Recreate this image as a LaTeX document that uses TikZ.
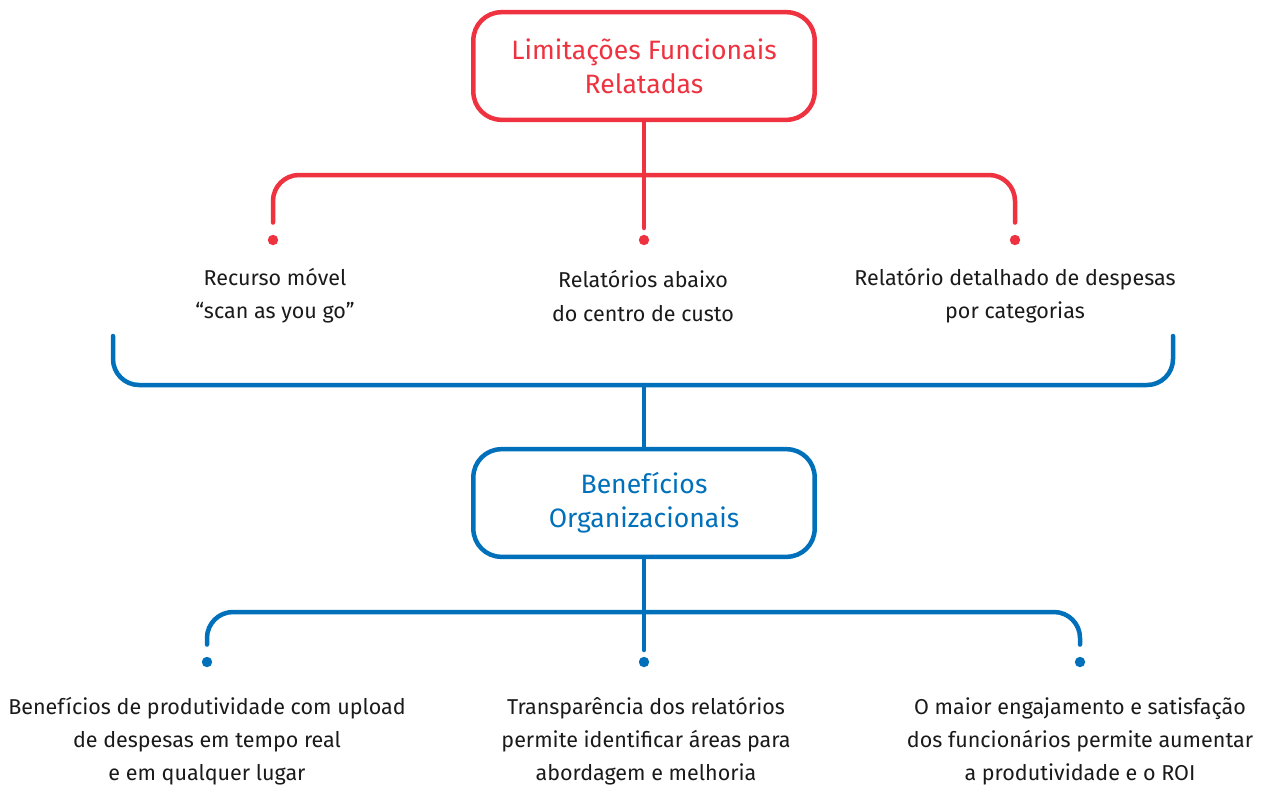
\documentclass[tikz,border=0pt]{standalone}
\usepackage{fontspec}
\setmainfont{Fira Sans}
\usetikzlibrary{positioning}
\definecolor{limred}{RGB}{238,50,64}
\definecolor{orgblue}{RGB}{0,112,186}
\definecolor{txtgray}{RGB}{26,26,26}

\begin{document}
\begin{tikzpicture}[
        x=0.025cm, y=-0.025cm,
        headbox/.style={
          draw,
          rectangle,
          rounded corners=0.7cm,
          line width=3.2pt,
          minimum width=8.53cm,
          minimum height=2.69cm,
          align=center,
          font=\fontsize{18.9}{24}\selectfont
        },
        item/.style={align=center, text=txtgray, font=\fontsize{15.3}{23.5}\selectfont},
        dot/.style={circle, inner sep=0pt, minimum size=0.26cm, fill},
        redline/.style={limred, line width=3.2pt, line cap=round, rounded corners=0.65cm},
        blueline/.style={orgblue, line width=3.2pt, line cap=round, rounded corners=0.65cm}
      ]
      \useasboundingbox (0,0) rectangle (1268,785);

      % Main boxes
      \node[headbox, limred, text=limred] (lim) at (644,66) {Limitações Funcionais\\Relatadas};
      \node[headbox, orgblue, text=orgblue] (ben) at (644,503) {Benefícios\\Organizacionais};

      % Limitations (red row)
      \node[dot, limred] (dl1) at (273,240) {};
      \node[dot, limred] (dl2) at (644,240) {};
      \node[dot, limred] (dl3) at (1015,240) {};
      \coordinate (rbar) at (644,175);

      \node[item] (lim1) at (275,296) {Recurso móvel\\“scan as you go”};
      \node[item] (lim2) at (643,296) {Relatórios abaixo\\do centro de custo};
      \node[item] (lim3) at (1015,296) {Relatório detalhado de despesas\\por categorias};

      \draw[redline] (lim.south) -- ([yshift=0.3cm]dl2.center);
      \draw[redline, shorten <=0.3cm, shorten >=0.3cm] (dl1) |- (rbar) -| (dl3);

      % Bracket joining the red row to the benefits
      \coordinate (bl) at (113,336);
      \coordinate (br) at (1173,336);
      \coordinate (bbar) at (644,385);
      \draw[blueline] (bl) |- (bbar) -| (br);
      \draw[blueline] (bbar) -- (ben.north);

      % Benefits (blue row)
      \node[dot, orgblue] (db1) at (207,662) {};
      \node[dot, orgblue] (db2) at (644,662) {};
      \node[dot, orgblue] (db3) at (1080,662) {};
      \coordinate (bbar2) at (644,612);

      \node[item] (ben1) at (207,741) {Benefícios de produtividade com upload\\de despesas em tempo real\\e em qualquer lugar};
      \node[item] (ben2) at (646,741) {Transparência dos relatórios\\permite identificar áreas para\\abordagem e melhoria};
      \node[item] (ben3) at (1080,741) {O maior engajamento e satisfação\\dos funcionários permite aumentar\\a produtividade e o ROI};

      \draw[blueline] (ben.south) -- ([yshift=0.3cm]db2.center);
      \draw[blueline, shorten <=0.3cm, shorten >=0.3cm] (db1) |- (bbar2) -| (db3);

    \end{tikzpicture}
\end{document}
